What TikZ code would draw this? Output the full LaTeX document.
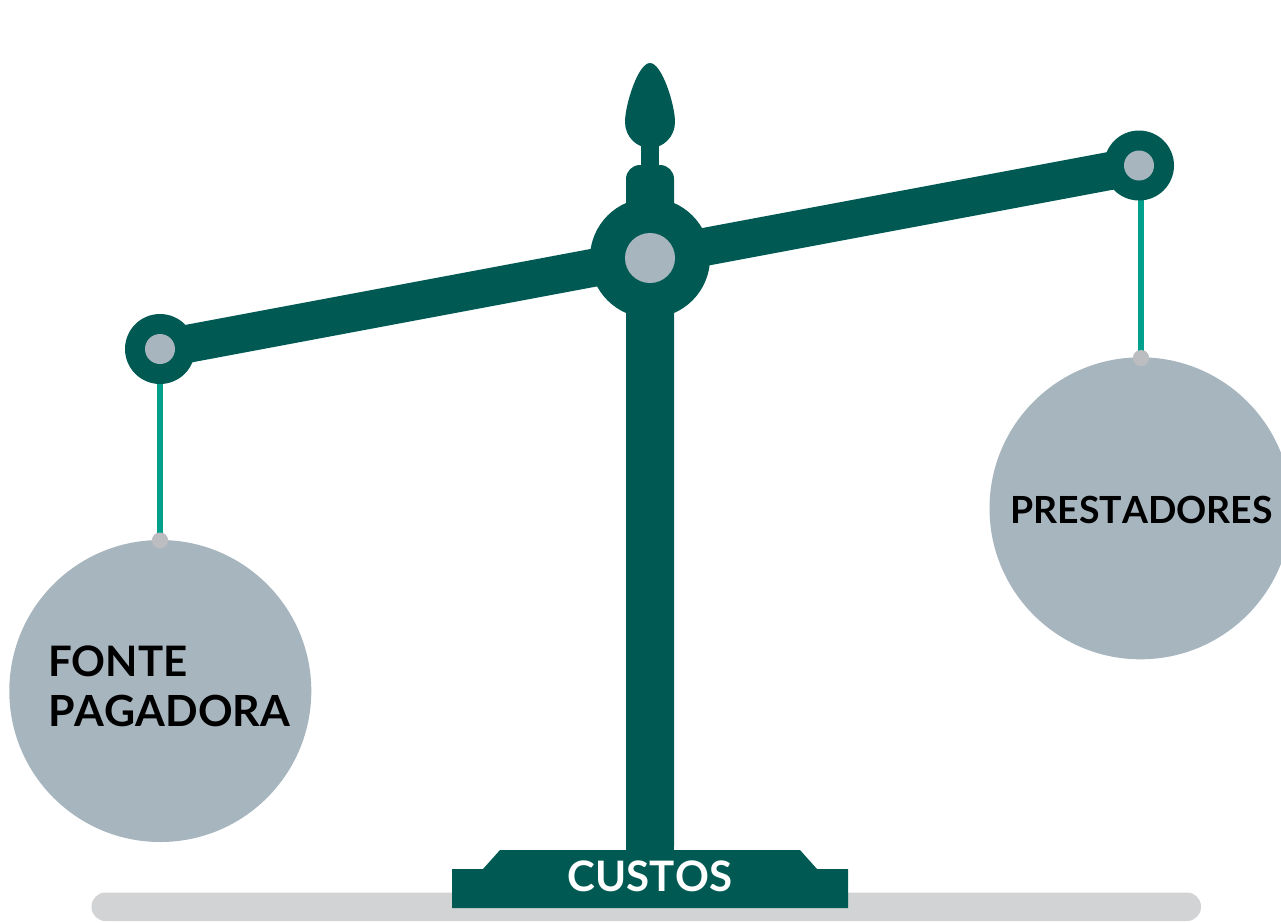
\documentclass[tikz,border=0pt]{standalone}
\usepackage{fontspec}
\setmainfont{Lato}[Kerning=Off]
\definecolor{darkgreen}{HTML}{005A53}
\definecolor{teal2}{HTML}{00A08C}
\definecolor{bluegray}{HTML}{A7B5BF}
\definecolor{dotgray}{HTML}{BBBDC0}
\definecolor{bargray}{HTML}{D1D3D4}
\tikzset{
  x=1pt,y=-1pt,
  disc/.style={circle,inner sep=0pt,outer sep=0pt,minimum size=#1},
  pan/.style={disc=302pt,fill=bluegray},
  hub/.style={disc=70pt,fill=darkgreen},
  eye/.style={disc=30pt,fill=bluegray},
  knot/.style={disc=16pt,fill=dotgray},
  cord/.style={draw=teal2,line width=6pt},
  label/.style={font=\bfseries\fontsize{42}{50}\selectfont,text=black,inner sep=0pt,align=left},
  widelabel/.style={font=\bfseries\fontsize{42.9}{50}\selectfont,text=black,inner sep=0pt},
  smalllabel/.style={font=\bfseries\fontsize{37.4}{44}\selectfont,text=black,inner sep=0pt}
}
\begin{document}
\begin{tikzpicture}
\clip (0,0) rectangle (1281,922);
\useasboundingbox (0,0) rectangle (1281,922);
% ground bar
\fill[bargray,rounded corners=14pt] (91.5,892.5) rectangle (1201,921);
% pans
\node[pan] (panL) at (160.3,691) {};
\node[pan] (panR) at (1140.5,508.3) {};
% pivots
\coordinate (pivL) at (160,349);
\coordinate (pivR) at (1139,165.5);
\coordinate (mid) at (650,258);
% cords
\coordinate (topL) at (160,349);
\coordinate (topR) at (1141,165);
\node[knot] (knotL) at (160,540.5) {};
\node[knot] (knotR) at (1141,358) {};
\draw[cord] (topL) -- (knotL.center);
\draw[cord] (topR) -- (knotR.center);
\node[knot] at (knotL.center) {};
\node[knot] at (knotR.center) {};
% beam
\draw[darkgreen,line width=38pt] (pivL) -- (pivR);
% column
\fill[darkgreen,rounded corners=14pt] (626,860) -- (626,165) -- (674,165) -- (674,860) -- cycle;
\fill[darkgreen] (626,300) rectangle (674,860);
% neck and finial
\fill[darkgreen] (641,135) rectangle (659,170);
\fill[darkgreen] (650,63) .. controls (638,63) and (625,105) .. (625,122)
  .. controls (625,137) and (637,148) .. (650,148)
  .. controls (663,148) and (675,137) .. (675,122)
  .. controls (675,105) and (662,63) .. (650,63) -- cycle;
% hubs
\node[disc=120pt,fill=darkgreen] (hubM) at (mid) {};
\node[disc=50pt,fill=bluegray] (eyeM) at (mid) {};
\node[hub] (hubL) at (pivL) {};
\node[eye] (eyeL) at (pivL) {};
\node[hub] (hubR) at (pivR) {};
\node[eye] (eyeR) at (pivR) {};
% base
\fill[darkgreen] (452,908) -- (452,869) -- (483,869) -- (500,850) -- (800,850) -- (817,869) -- (848,869) -- (848,908) -- cycle;
% texts
\node[label,anchor=base west] (t1) at (48,676) {FONTE};
\node[widelabel,anchor=base west] (t2) at (48,726) {PAGADORA};
\node[smalllabel,anchor=base] (t3) at (1141.5,523) {PRESTADORES};
\node[label,anchor=base,text=white] (t4) at (650,891) {CUSTOS};
\end{tikzpicture}
\end{document}
